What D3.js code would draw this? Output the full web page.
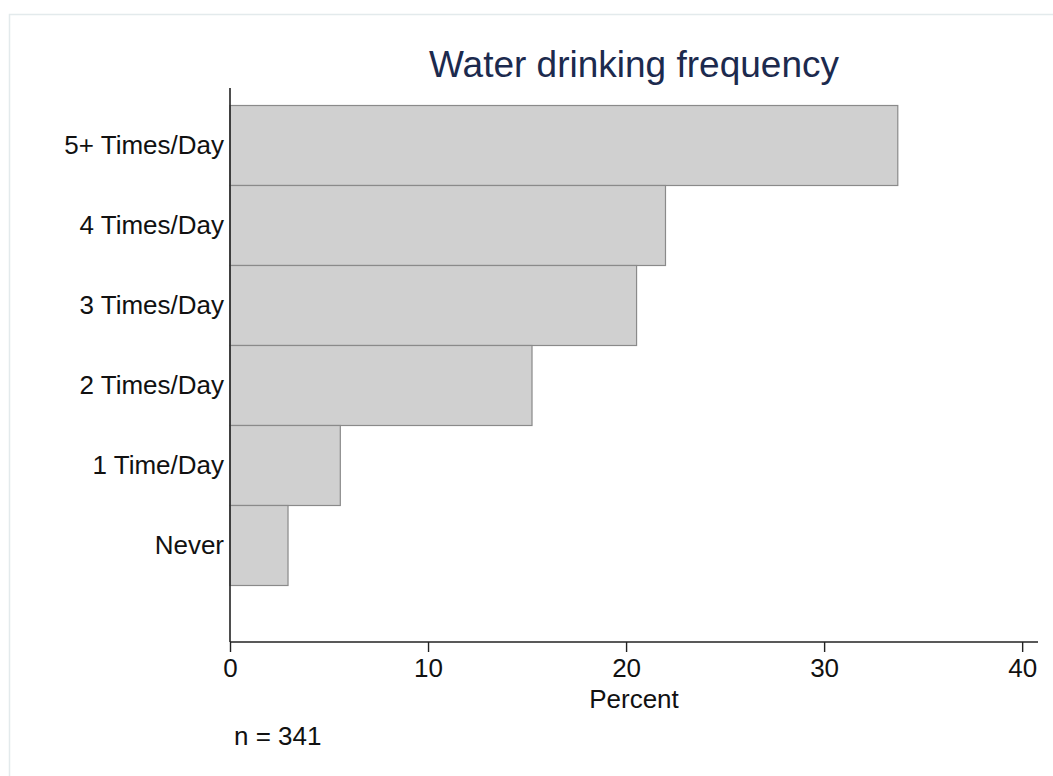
<!DOCTYPE html>
<html>
<head>
<meta charset="utf-8">
<script src="https://cdn.jsdelivr.net/npm/d3@7"></script>
<style>
  html, body { margin: 0; padding: 0; background: #fff; }
  svg { display: block; font-family: "Liberation Sans", Arial, Helvetica, sans-serif; }
</style>
</head>
<body>
<svg id="chart" width="1053" height="776"></svg>
<script>
// Data (top to bottom)
const categories = ["5+ Times/Day", "4 Times/Day", "3 Times/Day", "2 Times/Day", "1 Time/Day", "Never"];
const percents = [33.72, 21.99, 20.53, 15.25, 5.57, 2.93];
const xTicks = [0, 10, 20, 30, 40];
const titleText = "Water drinking frequency";
const xLabel = "Percent";
const noteText = "n = 341";

const svg = d3.select("#chart");

// outer frame
svg.append("rect")
  .attr("x", 9.5).attr("y", 14.5)
  .attr("width", 1100).attr("height", 900)
  .attr("fill", "#fff").attr("stroke", "#e3eaec").attr("stroke-width", 1.5);

const plot = { left: 230, right: 1038, top: 88, bottom: 642 };

const x = d3.scaleLinear().domain([0, 40.8]).range([plot.left, plot.right]);
const y = d3.scaleBand().domain(categories).range([105, 585]).padding(0);

// bars
svg.append("g").selectAll("rect")
  .data(categories)
  .join("rect")
  .attr("x", x(0))
  .attr("y", d => y(d) + 0.5)
  .attr("width", (d, i) => x(percents[i]) - x(0))
  .attr("height", y.bandwidth())
  .attr("fill", "#d0d0d0")
  .attr("stroke", "#8a8a8a")
  .attr("stroke-width", 1.2);

// y axis line
svg.append("line")
  .attr("x1", plot.left).attr("x2", plot.left)
  .attr("y1", plot.top).attr("y2", plot.bottom)
  .attr("stroke", "#222").attr("stroke-width", 1.6);

// category labels
svg.append("g").selectAll("text")
  .data(categories)
  .join("text")
  .attr("x", plot.left - 6)
  .attr("y", d => y(d) + y.bandwidth() / 2)
  .attr("dy", "0.35em")
  .attr("text-anchor", "end")
  .attr("font-size", 26)
  .attr("fill", "#111")
  .text(d => d);

// x axis
const xAxis = d3.axisBottom(x).tickValues(xTicks).tickSize(10).tickPadding(7).tickFormat(d3.format("d"));
const gx = svg.append("g")
  .attr("transform", `translate(0,${plot.bottom})`)
  .call(xAxis);
gx.select(".domain").attr("d", `M${plot.left},0H${plot.right}`).attr("stroke", "#222").attr("stroke-width", 1.6);
gx.selectAll(".tick line").attr("stroke", "#222").attr("stroke-width", 1.4);
gx.selectAll(".tick text").attr("font-size", 26).attr("fill", "#111")
  .attr("font-family", "Liberation Sans, Arial, sans-serif");

// x label
svg.append("text")
  .attr("x", (plot.left + plot.right) / 2)
  .attr("y", 708)
  .attr("text-anchor", "middle")
  .attr("font-size", 26)
  .attr("fill", "#111")
  .text(xLabel);

// title
svg.append("text")
  .attr("x", (plot.left + plot.right) / 2)
  .attr("y", 77)
  .attr("text-anchor", "middle")
  .attr("font-size", 37)
  .attr("fill", "#1c2a4e")
  .text(titleText);

// note
svg.append("text")
  .attr("x", 234)
  .attr("y", 745)
  .attr("font-size", 26)
  .attr("fill", "#111")
  .text(noteText);
</script>
</body>
</html>
